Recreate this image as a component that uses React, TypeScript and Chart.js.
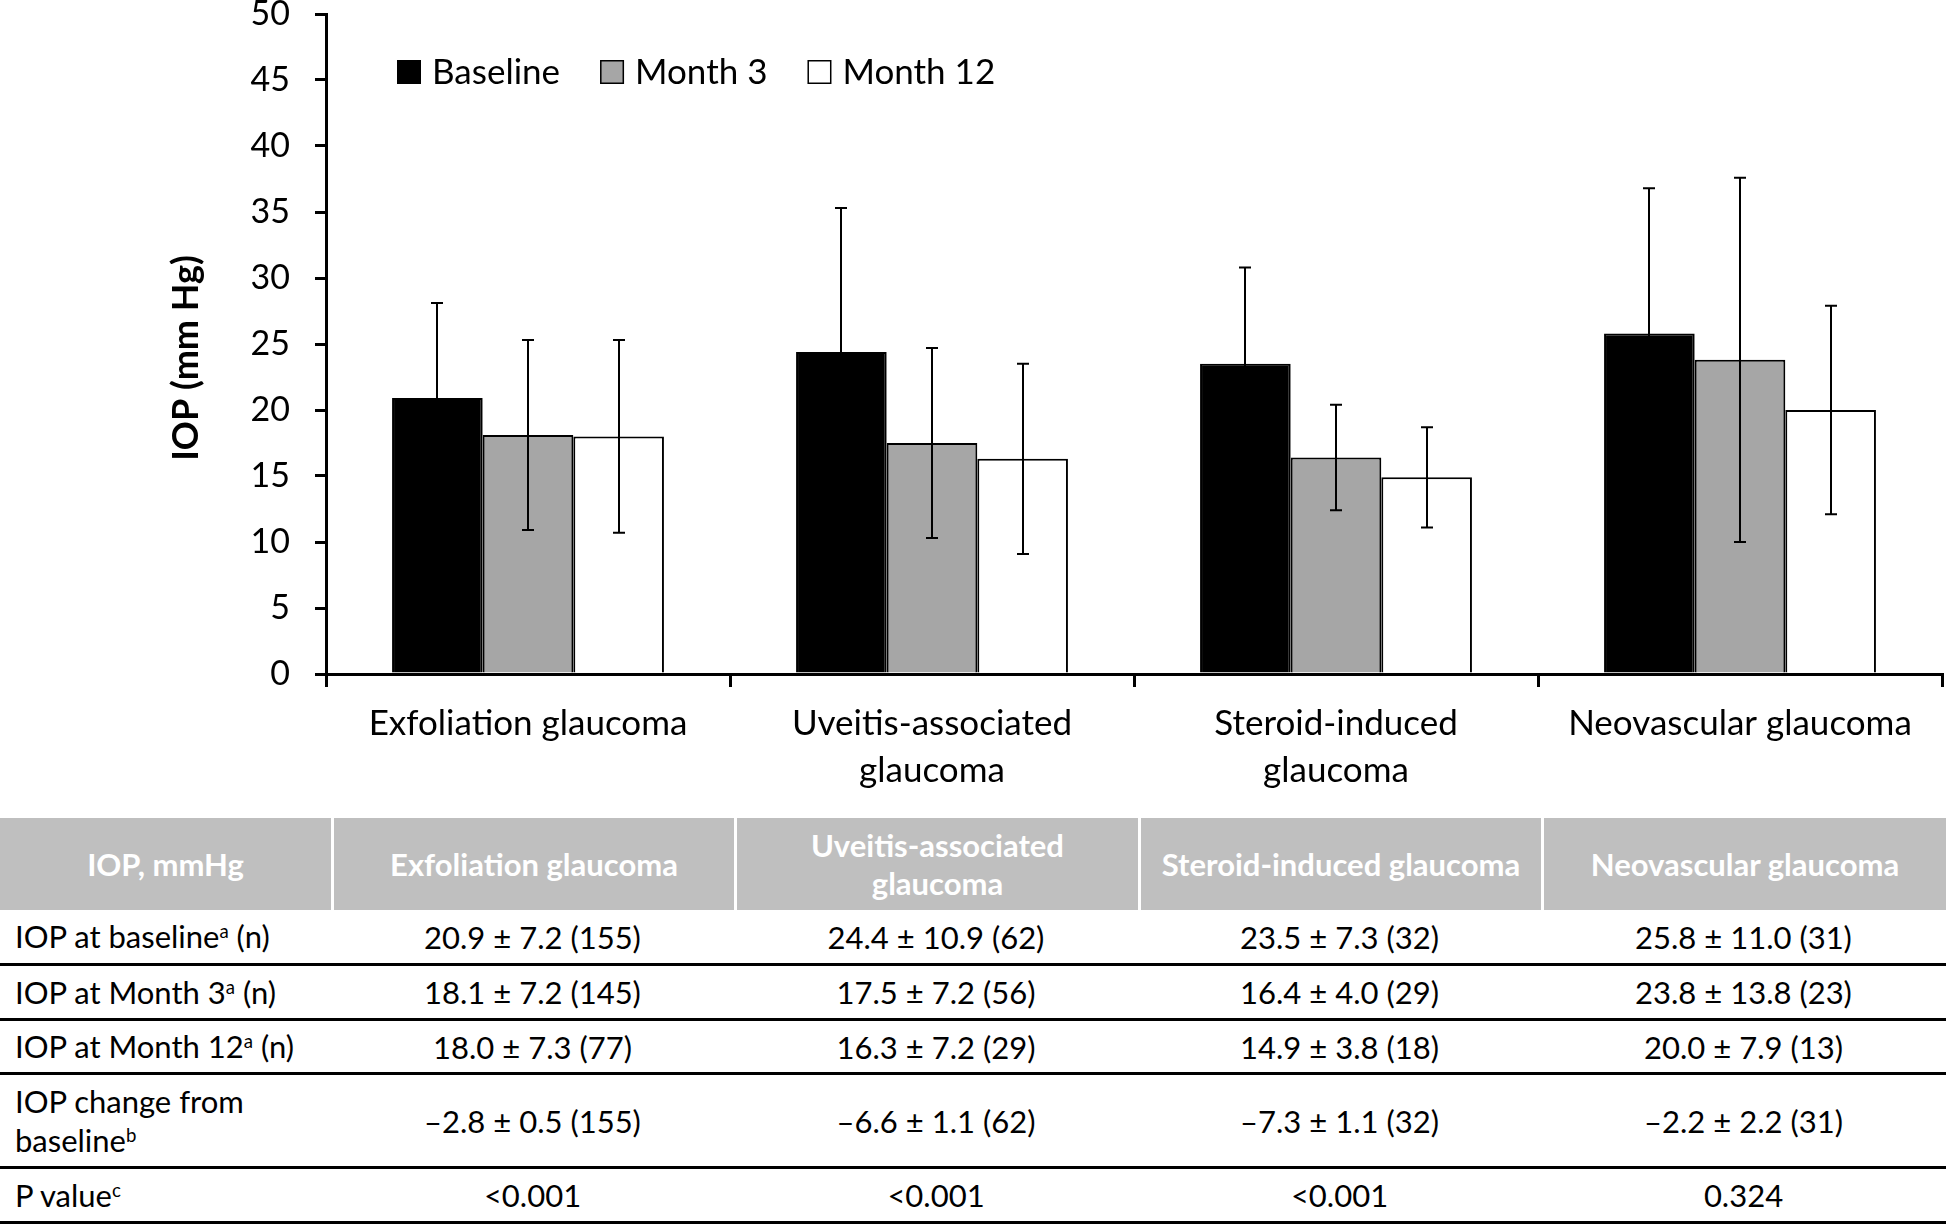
import React, { useEffect, useRef } from 'react';
import { Chart, registerables } from 'chart.js';

Chart.register(...registerables);

// ---------- data ----------
const categories: (string | string[])[] = [
  'Exfoliation glaucoma',
  ['Uveitis-associated', 'glaucoma'],
  ['Steroid-induced', 'glaucoma'],
  'Neovascular glaucoma',
];
const tableHeaders = ['Exfoliation glaucoma', 'Uveitis-associated glaucoma', 'Steroid-induced glaucoma', 'Neovascular glaucoma'];
const seriesNames = ['Baseline', 'Month 3', 'Month 12'];
const seriesColors = ['#000000', '#a6a6a6', '#ffffff'];

const baselineMean = [20.9, 24.4, 23.5, 25.8];
const baselineSD = [7.2, 10.9, 7.3, 11.0];
const baselineN = [155, 62, 32, 31];

const month3Mean = [18.1, 17.5, 16.4, 23.8];
const month3SD = [7.2, 7.2, 4.0, 13.8];
const month3N = [145, 56, 29, 23];

const month12Mean = [18.0, 16.3, 14.9, 20.0];
const month12SD = [7.3, 7.2, 3.8, 7.9];
const month12N = [77, 29, 18, 13];

const changeMean = [-2.8, -6.6, -7.3, -2.2];
const changeSE = [0.5, 1.1, 1.1, 2.2];
const changeN = [155, 62, 32, 31];

const pValues = ['<0.001', '<0.001', '<0.001', '0.324'];

const yMin = 0;
const yMax = 50;
const yStep = 5;
const yTitle = 'IOP (mm Hg)';

const seriesMeans = [baselineMean, month3Mean, month12Mean];
const seriesSDs = [baselineSD, month3SD, month12SD];

const FONT = 'Lato';

const fmtNum = (v: number) => (v < 0 ? '\u2013' + Math.abs(v).toFixed(1) : v.toFixed(1));
const fmtCell = (m: number, s: number, n: number) => `${fmtNum(m)} \u00b1 ${s.toFixed(1)} (${n})`;

// ---------- plugins ----------
const errorBarPlugin = {
  id: 'errorBars',
  afterDatasetsDraw(chart: any) {
    const ctx = chart.ctx;
    const yScale = chart.scales.y;
    chart.data.datasets.forEach((ds: any, i: number) => {
      const meta = chart.getDatasetMeta(i);
      const sds = seriesSDs[i];
      meta.data.forEach((el: any, j: number) => {
        const v = ds.data[j];
        const sd = sds[j];
        const top = yScale.getPixelForValue(v + sd);
        const bot = yScale.getPixelForValue(v - sd);
        const x = Math.round(el.x);
        ctx.save();
        ctx.strokeStyle = '#000';
        ctx.lineWidth = 2;
        ctx.beginPath();
        ctx.moveTo(x, top);
        ctx.lineTo(x, bot);
        ctx.moveTo(x - 6, top);
        ctx.lineTo(x + 6, top);
        ctx.moveTo(x - 6, bot);
        ctx.lineTo(x + 6, bot);
        ctx.stroke();
        ctx.restore();
      });
    });
  },
};

const legendPlugin = {
  id: 'customLegend',
  afterDraw(chart: any) {
    const ctx = chart.ctx;
    const area = chart.chartArea;
    let x = area.left + 71;
    const cy = 72;
    ctx.save();
    ctx.font = `35px ${FONT}`;
    ctx.textBaseline = 'middle';
    ctx.textAlign = 'left';
    chart.data.datasets.forEach((ds: any) => {
      ctx.fillStyle = ds.backgroundColor;
      ctx.fillRect(x, cy - 12, 24, 24);
      ctx.strokeStyle = '#000';
      ctx.lineWidth = 1.5;
      ctx.strokeRect(x + 0.75, cy - 11.25, 22.5, 22.5);
      ctx.fillStyle = '#000';
      ctx.fillText(ds.label, x + 35, cy + 1);
      x += 35 + ctx.measureText(ds.label).width + 40;
    });
    ctx.restore();
  },
};

const yTitlePlugin = {
  id: 'yTitle',
  afterDraw(chart: any) {
    const ctx = chart.ctx;
    const area = chart.chartArea;
    ctx.save();
    ctx.translate(area.left - 140, (area.top + area.bottom) / 2 + 14);
    ctx.rotate(-Math.PI / 2);
    ctx.font = `bold 36px ${FONT}`;
    ctx.fillStyle = '#000';
    ctx.textAlign = 'center';
    ctx.textBaseline = 'middle';
    ctx.fillText(yTitle, 0, 0);
    ctx.restore();
  },
};

// ---------- chart ----------
const CANVAS_W = 1946;
const CANVAS_H = 800;

function BarChart() {
  const ref = useRef<HTMLCanvasElement>(null);
  useEffect(() => {
    if (!ref.current) return;
    const chart = new Chart(ref.current, {
      type: 'bar',
      data: {
        labels: categories,
        datasets: seriesNames.map((name, i) => ({
          label: name,
          data: seriesMeans[i],
          backgroundColor: seriesColors[i],
          borderColor: '#000',
          borderWidth: 2,
          categoryPercentage: 0.673,
          barPercentage: 1,
        })),
      },
      options: {
        responsive: false,
        animation: false,
        devicePixelRatio: 1,
        layout: { padding: { left: 150, right: 4, top: 14, bottom: 0 } },
        plugins: {
          legend: { display: false },
          tooltip: { enabled: false },
        },
        scales: {
          x: {
            type: 'category',
            offset: true,
            grid: {
              display: true,
              drawOnChartArea: false,
              drawTicks: true,
              tickLength: 13,
              lineWidth: 3,
              color: '#000',
              offset: true,
            },
            border: { display: true, color: '#000', width: 3 },
            ticks: {
              color: '#000',
              font: { family: FONT, size: 35, lineHeight: 1.32 },
              padding: 14,
              maxRotation: 0,
              autoSkip: false,
            },
            afterFit(scale: any) {
              scale.height = CANVAS_H - 674;
              scale.paddingLeft = 0;
              scale.paddingRight = 0;
            },
          },
          y: {
            min: yMin,
            max: yMax,
            grid: {
              display: true,
              drawOnChartArea: false,
              drawTicks: true,
              tickLength: 11,
              lineWidth: 3,
              color: '#000',
            },
            border: { display: true, color: '#000', width: 3 },
            ticks: {
              stepSize: yStep,
              color: '#000',
              font: { family: FONT, size: 34 },
              padding: 25,
            },
            title: { display: false, text: yTitle },
            afterFit(scale: any) {
              scale.width = 176;
              scale.paddingTop = 0;
              scale.paddingBottom = 0;
            },
          },
        },
      },
      plugins: [errorBarPlugin, legendPlugin, yTitlePlugin],
    } as any);
    return () => chart.destroy();
  }, []);
  return (
    <canvas
      ref={ref}
      width={CANVAS_W}
      height={CANVAS_H}
      style={{ position: 'absolute', left: 0, top: 0, width: CANVAS_W, height: CANVAS_H }}
    />
  );
}

// ---------- table ----------
const colWidths = [331, 403, 404, 403, 405];
const sup = (s: string) => (
  <sup style={{ fontSize: '0.6em', lineHeight: 0, verticalAlign: '0.55em' }}>{s}</sup>
);

type RowDef = { label: React.ReactNode; cells: string[]; height: number };

const rows: RowDef[] = [
  { label: <>IOP at baseline{sup('a')} (n)</>, cells: baselineMean.map((m, i) => fmtCell(m, baselineSD[i], baselineN[i])), height: 56 },
  { label: <>IOP at Month 3{sup('a')} (n)</>, cells: month3Mean.map((m, i) => fmtCell(m, month3SD[i], month3N[i])), height: 55 },
  { label: <>IOP at Month 12{sup('a')} (n)</>, cells: month12Mean.map((m, i) => fmtCell(m, month12SD[i], month12N[i])), height: 54 },
  { label: <>IOP change from<br />baseline{sup('b')}</>, cells: changeMean.map((m, i) => fmtCell(m, changeSE[i], changeN[i])), height: 94 },
  { label: <>P value{sup('c')}</>, cells: pValues, height: 55 },
];

function DataTable() {
  return (
    <div style={{ position: 'absolute', left: 0, top: 818, width: 1946, fontFamily: FONT, fontSize: 31, color: '#000' }}>
      <div style={{ display: 'flex', height: 92 }}>
        {['IOP, mmHg', ...tableHeaders].map((h, i) => (
          <div
            key={i}
            style={{
              width: colWidths[i],
              boxSizing: 'border-box',
              background: '#bfbfbf',
              borderLeft: i === 0 ? 'none' : '3px solid #fff',
              color: '#fff',
              fontWeight: 'bold',
              display: 'flex',
              alignItems: 'center',
              justifyContent: 'center',
              textAlign: 'center',
              lineHeight: '38px',
            }}
          >
            {h === 'Uveitis-associated glaucoma' ? (
              <span>Uveitis-associated<br />glaucoma</span>
            ) : (
              <span>{h}</span>
            )}
          </div>
        ))}
      </div>
      {rows.map((r, ri) => (
        <div
          key={ri}
          style={{ display: 'flex', height: r.height, boxSizing: 'border-box', borderBottom: '3px solid #000' }}
        >
          <div
            style={{
              width: colWidths[0],
              paddingLeft: 15,
              boxSizing: 'border-box',
              display: 'flex',
              alignItems: 'center',
              lineHeight: '39px',
            }}
          >
            <span>{r.label}</span>
          </div>
          {r.cells.map((c, ci) => (
            <div
              key={ci}
              style={{
                width: colWidths[ci + 1],
                boxSizing: 'border-box',
                display: 'flex',
                alignItems: 'center',
                justifyContent: 'center',
              }}
            >
              {c}
            </div>
          ))}
        </div>
      ))}
    </div>
  );
}

export default function App() {
  return (
    <div style={{ position: 'absolute', left: 0, top: 0, width: 1946, height: 1224, background: '#fff', overflow: 'hidden' }}>
      <BarChart />
      <DataTable />
    </div>
  );
}
